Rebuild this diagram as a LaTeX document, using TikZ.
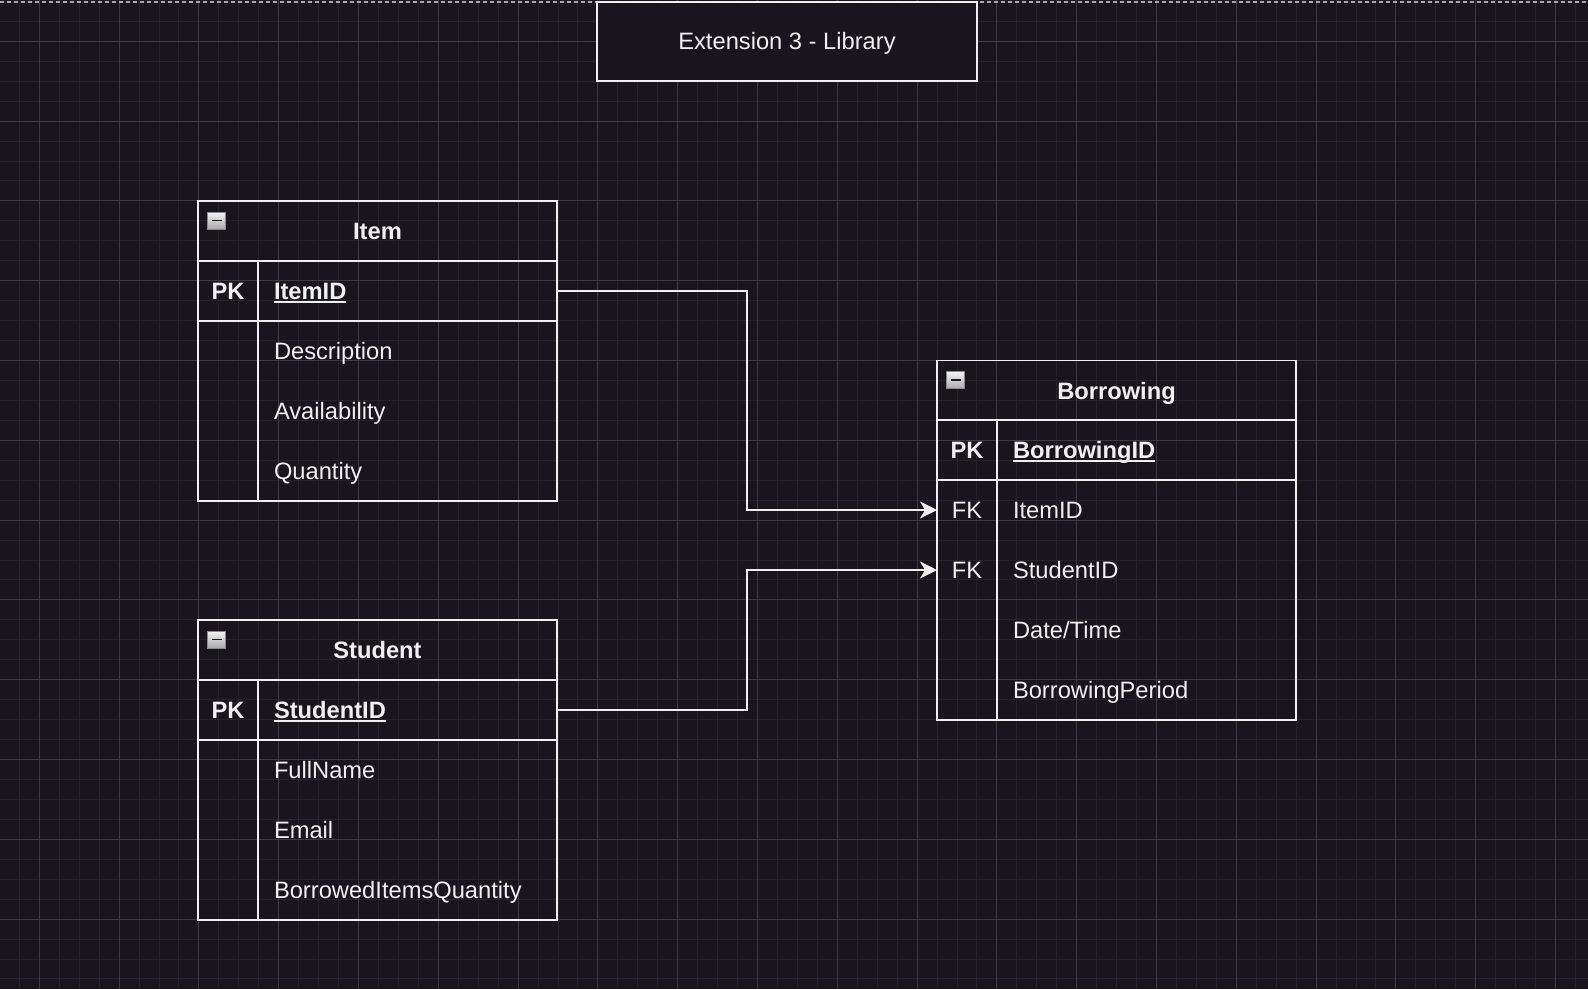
\documentclass[tikz,border=0pt]{standalone}
\usepackage{fontspec}
\setmainfont{Liberation Sans}
\usetikzlibrary{positioning,arrows.meta}

\definecolor{canvas}{HTML}{18151D}
\definecolor{gridminor}{HTML}{25222A}
\definecolor{gridmajor}{HTML}{3E3C43}
\definecolor{ink}{HTML}{F0F0F0}
\definecolor{pageedge}{HTML}{A8A8A8}
\definecolor{togglehi}{HTML}{F4F4F4}
\definecolor{togglelo}{HTML}{A9A9A9}
\definecolor{togglerim}{HTML}{8A8A8A}

\newcommand{\erfont}{\fontsize{23.7}{28}\selectfont}
\newcommand{\keyfield}[1]{\leavevmode\setbox0=\hbox{\bfseries #1}\rlap{\rule[-3.4pt]{\wd0}{1.5pt}}\box0}

\tikzset{
  tableline/.style={draw=ink, line width=1.8pt},
  tablehead/.style={tableline, minimum width=359pt, minimum height=60pt,
    font=\erfont\bfseries, text height=20pt, text depth=3pt},
  field/.style={text width=267pt, align=left, inner xsep=16pt, inner ysep=0pt,
    minimum height=60pt, font=\erfont, text height=20pt, text depth=3pt},
  keycell/.style={minimum width=60pt, minimum height=60pt, font=\erfont,
    text height=20pt, text depth=3pt},
  keyrow/.style={tableline},
  toggle/.style={minimum width=18pt, minimum height=17pt, draw=togglerim, line width=1pt,
    top color=togglehi, bottom color=togglelo,
    path picture={\draw[line width=1.8pt, black!90]
      ([xshift=4pt]path picture bounding box.west) -- ([xshift=-4pt]path picture bounding box.east);}},
  fklink/.style={draw=ink, line width=2pt, -{Stealth[length=17pt, width=17pt, inset=5pt]}},
}

\begin{document}
\begin{tikzpicture}[x=1pt, y=-1pt, every node/.style={text=ink, inner sep=0pt, outer sep=0pt}]
  \useasboundingbox (0,0) rectangle (1588,989);
  \fill[canvas] (0,0) rectangle (1588,989);

  % grid
  \foreach \k in {0,...,79}
    \draw[gridminor, line width=1pt] ({-0.6+19.95*\k},0) -- ++(0,989);
  \foreach \k in {0,...,49}
    \draw[gridminor, line width=1pt] (0,{1.4+19.95*\k}) -- ++(1588,0);
  \foreach \k in {0,...,19}
    \draw[gridmajor, line width=1pt] ({39.3+79.8*\k},0) -- ++(0,989);
  \foreach \k in {0,...,11}
    \draw[gridmajor, line width=1pt] (0,{41.3+79.8*\k}) -- ++(1588,0);
  \draw[pageedge, line width=1.2pt, dash pattern=on 4pt off 3pt] (0,2) -- (1588,2);

  % title
  \node[draw=ink, line width=2pt, fill=canvas, minimum width=380pt, minimum height=79pt,
    font=\erfont, text height=20pt, text depth=3pt] (title) at (787,41) {Extension 3 - Library};

  % Item
  \node[tablehead] (item) at (377.5,231) {Item};
  \node[field, keyrow] (itemid) at (407.5,291) {\keyfield{ItemID}};
  \node[keycell, keyrow, font=\erfont\bfseries, left=0pt of itemid] (itempk) {PK};
  \node[field, below=0pt of itemid] (itemdesc) {Description};
  \node[field, below=0pt of itemdesc] (itemavail) {Availability};
  \node[field, below=0pt of itemavail] (itemqty) {Quantity};
  \draw[tableline] (item.north west) rectangle (itemqty.south east);
  \draw[tableline] (itempk.north east) -- (itemqty.south west);
  \node[toggle] (itemtoggle) at ([xshift=18.5pt, yshift=-19.5pt]item.north west) {};

  % Student
  \node[tablehead] (student) at (377.5,650) {Student};
  \node[field, keyrow] (studentid) at (407.5,710) {\keyfield{StudentID}};
  \node[keycell, keyrow, font=\erfont\bfseries, left=0pt of studentid] (studentpk) {PK};
  \node[field, below=0pt of studentid] (studentname) {FullName};
  \node[field, below=0pt of studentname] (studentmail) {Email};
  \node[field, below=0pt of studentmail] (studentqty) {BorrowedItemsQuantity};
  \draw[tableline] (student.north west) rectangle (studentqty.south east);
  \draw[tableline] (studentpk.north east) -- (studentqty.south west);
  \node[toggle] (studenttoggle) at ([xshift=18.5pt, yshift=-19.5pt]student.north west) {};

  % Borrowing
  \node[tablehead] (borrowing) at (1116.5,390.5) {Borrowing};
  \node[field, keyrow] (borrowid) at (1146.5,450) {\keyfield{BorrowingID}};
  \node[keycell, keyrow, font=\erfont\bfseries, left=0pt of borrowid] (borrowpk) {PK};
  \node[field, below=0pt of borrowid] (borrowitem) {ItemID};
  \node[keycell, left=0pt of borrowitem] (borrowfkitem) {FK};
  \node[field, below=0pt of borrowitem] (borrowstudent) {StudentID};
  \node[keycell, left=0pt of borrowstudent] (borrowfkstudent) {FK};
  \node[field, below=0pt of borrowstudent] (borrowdate) {Date/Time};
  \node[field, below=0pt of borrowdate] (borrowperiod) {BorrowingPeriod};
  \draw[tableline] (borrowing.north west) rectangle (borrowperiod.south east);
  \draw[tableline] (borrowpk.north east) -- (borrowperiod.south west);
  \node[toggle] (borrowtoggle) at ([xshift=18.5pt, yshift=-19.5pt]borrowing.north west) {};

  % links
  \coordinate (elbow) at (747,0);
  \draw[fklink] (itemid.east) -- (itemid.east -| elbow) |- (borrowfkitem.west);
  \draw[fklink] (studentid.east) -- (studentid.east -| elbow) |- (borrowfkstudent.west);
\end{tikzpicture}
\end{document}
